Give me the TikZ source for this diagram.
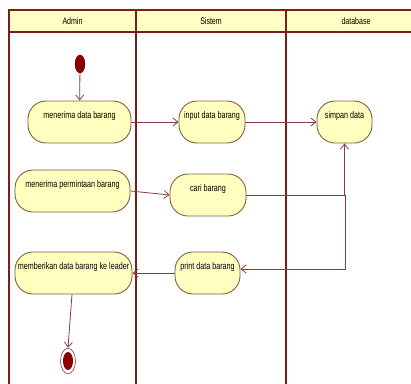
\documentclass[tikz,border=0pt]{standalone}
\usepackage{fontspec}
\setmainfont[FakeStretch=0.74]{Liberation Sans}
\usetikzlibrary{shapes.geometric,arrows.meta}
\definecolor{lane}{HTML}{7E1C1C}
\definecolor{hdr}{HTML}{FFFFC6}
\definecolor{actfill}{HTML}{FFFFC0}
\definecolor{actline}{HTML}{8A5A3A}
\definecolor{flow}{HTML}{8B3A44}
\definecolor{dot}{HTML}{8B0000}
\tikzset{
  act/.style={draw=actline, fill=actfill, line width=0.9pt, rounded corners=18pt,
    minimum height=42pt, inner xsep=2pt, inner ysep=4pt, text height=13pt, text depth=21pt,
    font=\fontsize{9.7pt}{11pt}\selectfont, anchor=center},
  flowline/.style={draw=flow, line width=0.8pt, -{Straight Barb[length=5pt,width=8pt]}},
  hdrtext/.style={font=\fontsize{9.5pt}{11pt}\selectfont},
}
\begin{document}
\begin{tikzpicture}[x=1pt,y=-1pt]
\useasboundingbox (0,0) rectangle (411,383);
\begin{scope}
\clip (0,0) rectangle (411,383);
\fill[hdr] (9,10) rectangle (430,32);
\draw[lane, line width=1.5pt] (9,400) -- (9,10) -- (430,10);
\draw[lane, line width=1.2pt] (9,32) -- (430,32);
\draw[lane, line width=2pt] (136,10) -- (136,400);
\draw[lane, line width=2pt] (286,10) -- (286,400);
\node[hdrtext] (hA) at (72.5,21) {Admin};
\node[hdrtext] (hS) at (211,21) {Sistem};
\node[hdrtext] (hD) at (356,21) {database};
\end{scope}

\node[ellipse, fill=dot, draw=dot!70!black, minimum width=10pt, minimum height=18pt, inner sep=0pt] (start) at (80,64) {};

\node[act, minimum width=103pt] (a1) at (79.5,122) {menerima data barang};
\node[act, minimum width=66pt] (s1) at (212,122) {input data barang};
\node[act, minimum width=55pt] (d1) at (344.5,122) {simpan data};
\node[act, minimum width=115pt] (a2) at (72.5,191) {menerima permintaan barang};
\node[act, minimum width=76pt] (s2) at (208,195) {cari barang};
\node[act, minimum width=65pt] (s3) at (207.5,273) {print data barang};
\node[act, minimum width=117pt] (a3) at (73.5,273) {memberikan data barang ke leader};

\node[circle, draw=flow, line width=0.6pt, fill=white, minimum size=15pt, inner sep=0pt, yscale=1.7] (end) at (68,361) {};
\node[circle, fill=dot, minimum size=10pt, inner sep=0pt, yscale=1.8] (endin) at (68,361) {};

\draw[flowline] (start) -- (a1);
\draw[flowline] (a1) -- (s1);
\draw[flowline] (s1) -- (d1);
\draw[flowline] (a2.east) -- (s2.west);
\draw[flowline] (s2.east) -| (d1.south);
\coordinate (turn) at (345,269);
\draw[flowline] (s2.east) -| (turn) -- (turn -| s3.east);
\draw[flowline] (s3.west) -- (a3.east);
\draw[flowline] ([xshift=-1.5pt]a3.south) -- (end.north);
\end{tikzpicture}
\end{document}
